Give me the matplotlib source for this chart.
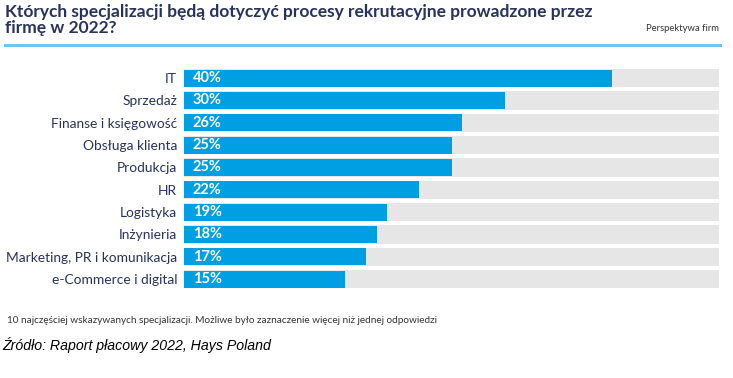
import matplotlib.pyplot as plt

# dane z wykresu
kategorie = ['IT', 'Sprzedaż', 'Finanse i księgowość', 'Obsługa klienta', 'Produkcja',
             'HR', 'Logistyka', 'Inżynieria', 'Marketing, PR i komunikacja', 'e-Commerce i digital']
wartosci = [40, 30, 26, 25, 25, 22, 19, 18, 17, 15]
tlo_max = 50

navy = '#27325e'
blue = '#009fe3'
gray = '#e6e6e6'

plt.rcParams['font.family'] = ['Lato', 'DejaVu Sans']

fig = plt.figure(figsize=(7.33, 3.78), dpi=100)
ax = fig.add_axes([0.251, 0.232, 0.730, 0.591])

y = list(range(len(kategorie)))
ax.barh(y, [tlo_max] * len(y), height=0.82, color=gray, linewidth=0)
ax.barh(y, wartosci, height=0.76, color=blue, linewidth=0)
for i, v in enumerate(wartosci):
    ax.text(0.8, i, f'{v}%', color='white', fontsize=10.5, fontweight='bold',
            va='center', ha='left')

ax.set_xlim(0, tlo_max)
ax.set_ylim(len(y) - 0.5, -0.5)
ax.set_yticks(y)
ax.set_yticklabels(kategorie, fontsize=9.9, color=navy)
ax.tick_params(axis='y', length=0, pad=5)
ax.set_xticks([])
for s in ax.spines.values():
    s.set_visible(False)

fig.text(0.007, 0.99, 'Których specjalizacji będą dotyczyć procesy rekrutacyjne prowadzone przez\nfirmę w 2022?',
         fontsize=12.5, fontweight='bold', color=navy, va='top', ha='left', linespacing=1.0)
fig.text(0.981, 0.925, 'Perspektywa firm', fontsize=6.8, color='#333333', ha='right', va='center')
fig.add_artist(plt.Line2D([0.007, 0.982], [0.881, 0.881], color='#6ec6ee', linewidth=2.2))

fig.text(0.009, 0.153, '10 najczęściej wskazywanych specjalizacji. Możliwe było zaznaczenie więcej niż jednej odpowiedzi',
         fontsize=7.2, color='#333333', va='center')
fig.text(0.003, 0.087, 'Źródło: Raport płacowy 2022, Hays Poland', fontsize=10.2, style='italic',
         family='Liberation Sans', color='black', va='center')

plt.savefig('out.png', dpi=100)
